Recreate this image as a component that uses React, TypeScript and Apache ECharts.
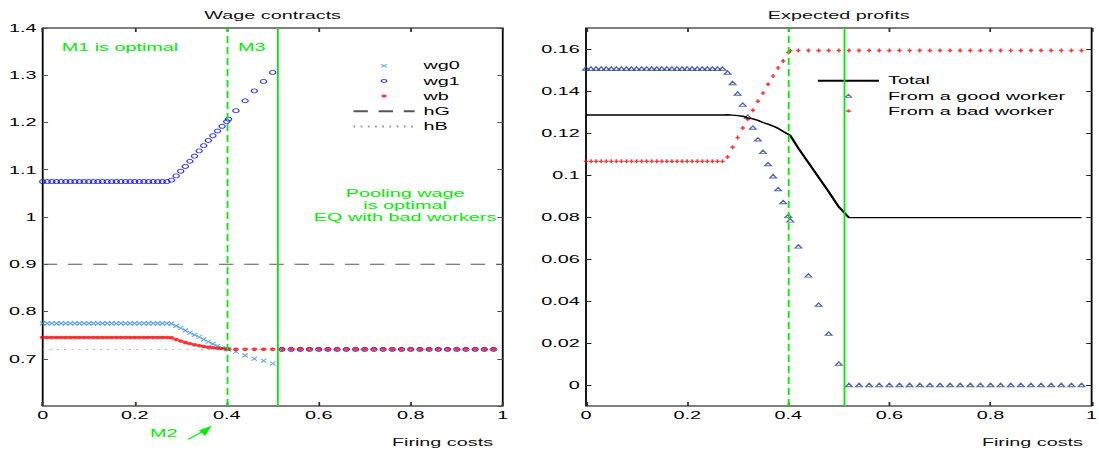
import React, { useEffect, useRef } from "react";
import * as echarts from "echarts";

// Firing-cost grid: fine steps up to the M2 threshold, coarser steps beyond it.
const fcDense = [
  0, 0.01, 0.02, 0.03, 0.04, 0.05, 0.06, 0.07, 0.08, 0.09, 0.1, 0.11, 0.12, 0.13,
  0.14, 0.15, 0.16, 0.17, 0.18, 0.19, 0.2, 0.21, 0.22, 0.23, 0.24, 0.25, 0.26, 0.27,
  0.28, 0.29, 0.3, 0.31, 0.32, 0.33, 0.34, 0.35, 0.36, 0.37, 0.38, 0.39, 0.4, 0.404,
];
const fcMid = [0.42, 0.44, 0.46, 0.48, 0.5];
const fcPool = [
  0.52, 0.54, 0.56, 0.58, 0.6, 0.62, 0.64, 0.66, 0.68, 0.7, 0.72, 0.74,
  0.76, 0.78, 0.8, 0.82, 0.84, 0.86, 0.88, 0.9, 0.92, 0.94, 0.96, 0.98,
];

// Wage contracts
const wg0 = [
  0.775, 0.775, 0.775, 0.775, 0.775, 0.775, 0.775, 0.775, 0.775, 0.775, 0.775, 0.775, 0.775, 0.775,
  0.775, 0.775, 0.775, 0.775, 0.775, 0.775, 0.775, 0.775, 0.775, 0.775, 0.775, 0.775, 0.775, 0.775,
  0.7745, 0.7695, 0.765, 0.76, 0.755, 0.7505, 0.746, 0.741, 0.736, 0.7315, 0.727, 0.7225, 0.7205, 0.7198,
  0.7148, 0.707, 0.7, 0.6958, 0.69,
];
const wg1Separating = [
  1.075, 1.075, 1.075, 1.075, 1.075, 1.075, 1.075, 1.075, 1.075, 1.075, 1.075, 1.075, 1.075, 1.075,
  1.075, 1.075, 1.075, 1.075, 1.075, 1.075, 1.075, 1.075, 1.075, 1.075, 1.075, 1.075, 1.075, 1.075,
  1.078, 1.087, 1.097, 1.107, 1.118, 1.129, 1.14, 1.151, 1.162, 1.172, 1.182, 1.192, 1.202, 1.207,
  1.225, 1.246, 1.267, 1.287, 1.306,
];
const wg1Pooling = [
  0.72, 0.72, 0.72, 0.72, 0.72, 0.72, 0.72, 0.72, 0.72, 0.72, 0.72, 0.72,
  0.72, 0.72, 0.72, 0.72, 0.72, 0.72, 0.72, 0.72, 0.72, 0.72, 0.72, 0.72,
];
const wb = [
  0.745, 0.745, 0.745, 0.745, 0.745, 0.745, 0.745, 0.745, 0.745, 0.745, 0.745, 0.745, 0.745, 0.745,
  0.745, 0.745, 0.745, 0.745, 0.745, 0.745, 0.745, 0.745, 0.745, 0.745, 0.745, 0.745, 0.745, 0.745,
  0.7445, 0.741, 0.7375, 0.7345, 0.732, 0.7298, 0.7278, 0.726, 0.7245, 0.7232, 0.7222, 0.7214, 0.7208, 0.7203,
  0.72, 0.72, 0.72, 0.72, 0.72,
  0.72, 0.72, 0.72, 0.72, 0.72, 0.72, 0.72, 0.72, 0.72, 0.72, 0.72, 0.72,
  0.72, 0.72, 0.72, 0.72, 0.72, 0.72, 0.72, 0.72, 0.72, 0.72, 0.72, 0.72,
];
const hG = 0.9;
const hB = 0.72;
const hLineX = [0, 1];

// Expected profits
const profitGood = [
  0.1507, 0.1507, 0.1507, 0.1507, 0.1507, 0.1507, 0.1507, 0.1507, 0.1507, 0.1507, 0.1507, 0.1507, 0.1507, 0.1507,
  0.1507, 0.1507, 0.1507, 0.1507, 0.1507, 0.1507, 0.1507, 0.1507, 0.1507, 0.1507, 0.1507, 0.1507, 0.1507, 0.1507,
  0.1488, 0.1438, 0.1388, 0.1335, 0.1278, 0.1226, 0.117, 0.111, 0.1052, 0.0994, 0.0933, 0.0871, 0.0805, 0.0784,
  0.066, 0.0522, 0.0383, 0.0245, 0.0102,
  0, 0, 0, 0, 0, 0, 0, 0, 0, 0, 0, 0,
  0, 0, 0, 0, 0, 0, 0, 0, 0, 0, 0, 0,
];
const profitBad = [
  0.1065, 0.1065, 0.1065, 0.1065, 0.1065, 0.1065, 0.1065, 0.1065, 0.1065, 0.1065, 0.1065, 0.1065, 0.1065, 0.1065,
  0.1065, 0.1065, 0.1065, 0.1065, 0.1065, 0.1065, 0.1065, 0.1065, 0.1065, 0.1065, 0.1065, 0.1065, 0.1065, 0.1065,
  0.1086, 0.1132, 0.1178, 0.1224, 0.1265, 0.1308, 0.1351, 0.139, 0.1432, 0.1471, 0.151, 0.1543, 0.1583, 0.1592,
  0.1593, 0.1593, 0.1593, 0.1593, 0.1593,
  0.1593, 0.1593, 0.1593, 0.1593, 0.1593, 0.1593, 0.1593, 0.1593, 0.1593, 0.1593, 0.1593, 0.1593,
  0.1593, 0.1593, 0.1593, 0.1593, 0.1593, 0.1593, 0.1593, 0.1593, 0.1593, 0.1593, 0.1593, 0.1593,
];
const profitTotal = [
  0.1286, 0.1286, 0.1286, 0.1286, 0.1286, 0.1286, 0.1286, 0.1286, 0.1286, 0.1286, 0.1286, 0.1286, 0.1286, 0.1286,
  0.1286, 0.1286, 0.1286, 0.1286, 0.1286, 0.1286, 0.1286, 0.1286, 0.1286, 0.1286, 0.1286, 0.1286, 0.1286, 0.1286,
  0.1287, 0.1285, 0.1283, 0.128, 0.1272, 0.1267, 0.126, 0.125, 0.1242, 0.1233, 0.1222, 0.1207, 0.1194, 0.1188,
  0.1127, 0.1058, 0.0989, 0.092, 0.0848,
  0.0797, 0.0797, 0.0797, 0.0797, 0.0797, 0.0797, 0.0797, 0.0797, 0.0797, 0.0797, 0.0797, 0.0797,
  0.0797, 0.0797, 0.0797, 0.0797, 0.0797, 0.0797, 0.0797, 0.0797, 0.0797, 0.0797, 0.0797, 0.0797,
];

// Regime thresholds (M2 boundary, pooling boundary)
const thresholdM2 = 0.402;
const thresholdPool = 0.509;

const xTicks = [0, 0.2, 0.4, 0.6, 0.8, 1];
const profitTicks = [0, 0.02, 0.04, 0.06, 0.08, 0.1, 0.12, 0.14, 0.16];

// The figure is drawn on a narrow canvas and widened horizontally.
const PAGE_W = 1099;
const PAGE_H = 453;
const W0 = 611;
const SX = PAGE_W / W0;

const FF = '"Liberation Sans", Arial, Helvetica, sans-serif';
const GREEN = "#00ee00";
const CROSS_BLUE = "#2b8be6";
const CIRCLE_BLUE = "#0000ff";
const TRI_BLUE = "#23409a";
const RED = "#ff0000";
const CLEAR = "rgba(0,0,0,0)";

const pts = (xs: number[], ys: number[]) => xs.map((x, i) => [x, ys[i]]);

const CROSS = "path://M0,0L10,10M10,0L0,10";
const PLUS = "path://M5,0L5,10M0,5L10,5";
const TRIANGLE = "path://M5,0L10,9L0,9Z";

const crossStyle = { color: CLEAR, borderColor: CROSS_BLUE, borderWidth: 0.8 };
const circleStyle = { color: CLEAR, borderColor: CIRCLE_BLUE, borderWidth: 0.8 };
const dotStyle = { color: RED, borderWidth: 0 };
const triStyle = { color: CLEAR, borderColor: TRI_BLUE, borderWidth: 0.9 };
const plusStyle = { color: CLEAR, borderColor: RED, borderWidth: 1.1 };

function buildOption() {
  const allX = fcDense.concat(fcMid, fcPool);
  const sepX = fcDense.concat(fcMid);

  const baseX = (gridIndex: number, top: boolean) => ({
    type: "value",
    gridIndex,
    position: top ? "top" : "bottom",
    min: 0,
    max: 1,
    interval: 0.2,
    axisLine: { show: false, onZero: false },
    axisTick: { show: true, inside: true, length: 4, lineStyle: { color: "#333", width: 1 } },
    axisLabel: {
      show: !top,
      margin: 4,
      fontSize: 11,
      fontFamily: FF,
      color: "#000",
      customValues: xTicks,
    },
    splitLine: { show: false },
  });

  const leftY = (right: boolean) => ({
    type: "value",
    gridIndex: 0,
    position: right ? "right" : "left",
    min: 0.6,
    max: 1.4,
    interval: 0.1,
    axisLine: { show: false, onZero: false },
    axisTick: { show: true, inside: true, length: 3, lineStyle: { color: "#555", width: 1 } },
    axisLabel: {
      show: !right,
      showMinLabel: false,
      margin: 3.5,
      fontSize: 11,
      fontFamily: FF,
      color: "#000",
    },
    splitLine: { show: false },
  });

  const rightY = (right: boolean) => ({
    type: "value",
    gridIndex: 1,
    position: right ? "right" : "left",
    min: -0.01,
    max: 0.17,
    axisLine: { show: false, onZero: false },
    axisTick: {
      show: true,
      inside: true,
      length: 3,
      customValues: profitTicks,
      lineStyle: { color: "#222", width: 1 },
    },
    axisLabel: {
      show: !right,
      margin: 3.5,
      fontSize: 11,
      fontFamily: FF,
      color: "#000",
      customValues: profitTicks,
    },
    splitLine: { show: false },
  });

  const thresholdLines = {
    silent: true,
    symbol: ["none", "none"],
    label: { show: false },
    emphasis: { disabled: true },
    data: [
      { xAxis: thresholdM2, lineStyle: { color: GREEN, width: 1, type: [7, 4] } },
      { xAxis: thresholdPool, lineStyle: { color: GREEN, width: 1, type: "solid" } },
    ],
  };

  const text = (
    str: string,
    x: number,
    y: number,
    align: string,
    fill: string
  ) => ({
    type: "text",
    x,
    y,
    silent: true,
    style: {
      text: str,
      align,
      verticalAlign: "middle",
      fontSize: 11,
      fontFamily: FF,
      fill,
    },
  });

  const legendBase = {
    orient: "vertical",
    padding: 0,
    itemWidth: 34,
    itemHeight: 3,
    itemGap: 4.2,
    symbolKeepAspect: true,
    selectedMode: false,
    textStyle: { fontSize: 11, fontFamily: FF, color: "#000" },
  };

  return {
    animation: false,
    backgroundColor: "#fff",
    grid: [
      {
        left: 23.74,
        top: 28,
        width: 255.76,
        bottom: 47,
        show: true,
        borderColor: "#000",
        borderWidth: 1,
        backgroundColor: "transparent",
        containLabel: false,
        outerBoundsMode: "none",
      },
      {
        left: 325.8,
        top: 28,
        width: 281.1,
        bottom: 47,
        show: true,
        borderColor: "#000",
        borderWidth: 1,
        backgroundColor: "transparent",
        containLabel: false,
        outerBoundsMode: "none",
      },
    ],
    xAxis: [baseX(0, false), baseX(0, true), baseX(1, false), baseX(1, true)],
    yAxis: [leftY(false), leftY(true), rightY(false), rightY(true)],
    legend: [
      {
        ...legendBase,
        left: 195.5,
        top: 60.2,
        data: [
          { name: "wg0", icon: CROSS, itemStyle: crossStyle },
          { name: "wg1", icon: "circle", itemStyle: circleStyle },
          { name: "wb", icon: "circle", itemStyle: dotStyle },
          { name: "hG" },
          { name: "hB" },
        ],
      },
      {
        ...legendBase,
        left: 453.7,
        top: 75.2,
        data: [
          { name: "Total" },
          { name: "From a good worker", icon: TRIANGLE, itemStyle: triStyle },
          { name: "From a bad worker", icon: PLUS, itemStyle: plusStyle },
        ],
      },
    ],
    series: [
      {
        name: "hG",
        type: "line",
        xAxisIndex: 0,
        yAxisIndex: 0,
        data: pts(hLineX, [hG, hG]),
        symbol: "none",
        itemStyle: { color: CLEAR },
        lineStyle: { color: "#555", width: 0.8, type: [8, 6] },
        markLine: thresholdLines,
      },
      {
        name: "hB",
        type: "line",
        xAxisIndex: 0,
        yAxisIndex: 0,
        data: pts(hLineX, [hB, hB]),
        symbol: "none",
        itemStyle: { color: CLEAR },
        lineStyle: { color: "#9a9a9a", width: 0.8, type: [1, 3] },
      },
      {
        name: "wg0",
        type: "scatter",
        xAxisIndex: 0,
        yAxisIndex: 0,
        data: pts(sepX, wg0),
        symbol: CROSS,
        symbolSize: [3, 4],
        itemStyle: crossStyle,
      },
      {
        name: "wg1",
        type: "scatter",
        xAxisIndex: 0,
        yAxisIndex: 0,
        data: pts(allX, wg1Separating.concat(wg1Pooling)),
        symbol: "circle",
        symbolSize: [3.4, 4],
        itemStyle: circleStyle,
      },
      {
        name: "wb",
        type: "scatter",
        xAxisIndex: 0,
        yAxisIndex: 0,
        data: pts(allX, wb),
        symbol: "circle",
        symbolSize: [3.2, 3.4],
        itemStyle: dotStyle,
      },
      {
        name: "Total",
        type: "line",
        xAxisIndex: 2,
        yAxisIndex: 2,
        data: pts(allX, profitTotal),
        symbol: "none",
        itemStyle: { color: CLEAR },
        lineStyle: { color: "#000", width: 1.4 },
        markLine: thresholdLines,
      },
      {
        name: "From a good worker",
        type: "scatter",
        xAxisIndex: 2,
        yAxisIndex: 2,
        data: pts(allX, profitGood),
        symbol: "triangle",
        symbolSize: [3.7, 3.4],
        itemStyle: triStyle,
      },
      {
        name: "From a bad worker",
        type: "scatter",
        xAxisIndex: 2,
        yAxisIndex: 2,
        data: pts(allX, profitBad),
        symbol: PLUS,
        symbolSize: [2.4, 4],
        itemStyle: plusStyle,
      },
    ],
    graphic: [
      text("Wage contracts", 151.6, 15, "center", "#111"),
      text("Expected profits", 466.3, 15, "center", "#111"),
      text("Firing costs", 274.1, 442, "right", "#111"),
      text("Firing costs", 602.1, 442, "right", "#111"),
      text("M1 is optimal", 34.3, 47, "left", GREEN),
      text("M3", 132.3, 47, "left", GREEN),
      text("Pooling wage", 225.2, 193.3, "center", GREEN),
      text("is optimal", 225.2, 205.5, "center", GREEN),
      text("EQ with bad workers", 225.2, 217.7, "center", GREEN),
      text("M2", 83.4, 433, "left", GREEN),
      {
        type: "line",
        silent: true,
        shape: { x1: 104.7, y1: 439.3, x2: 113, y2: 431 },
        style: { stroke: GREEN, lineWidth: 1 },
      },
      {
        type: "polygon",
        silent: true,
        shape: { points: [[117.7, 425.7], [110.6, 430.2], [114, 436]] },
        style: { fill: GREEN },
      },
    ],
  };
}

export default function App() {
  const ref = useRef<HTMLDivElement>(null);

  useEffect(() => {
    if (!ref.current) return;
    const chart = echarts.init(ref.current, null, {
      renderer: "svg",
      width: W0,
      height: PAGE_H,
    });
    chart.setOption(buildOption() as any);
    return () => chart.dispose();
  }, []);

  return (
    <div
      style={{
        position: "absolute",
        left: 0,
        top: 0,
        width: PAGE_W,
        height: PAGE_H,
        overflow: "hidden",
        background: "#fff",
      }}
    >
      <div
        ref={ref}
        style={{
          width: W0,
          height: PAGE_H,
          transform: `scaleX(${SX})`,
          transformOrigin: "0 0",
        }}
      />
    </div>
  );
}
